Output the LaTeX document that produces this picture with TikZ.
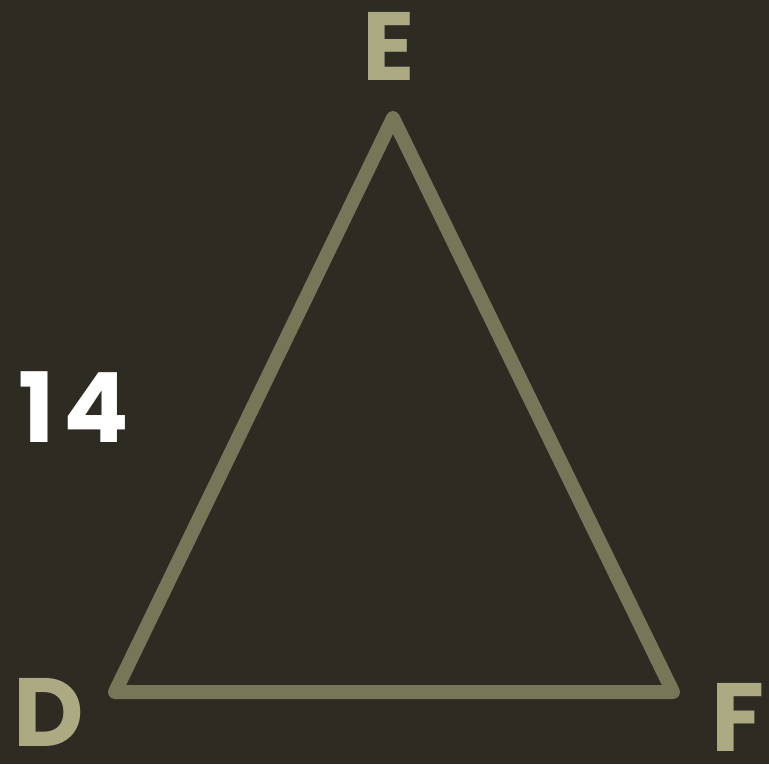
\documentclass[tikz,border=0pt]{standalone}
\usepackage{fontspec}
\setmainfont{Poppins}[BoldFont={* Bold}]
\definecolor{bg}{RGB}{46,44,34}
\definecolor{edge}{RGB}{118,118,88}
\definecolor{lab}{RGB}{172,170,130}
\begin{document}
\begin{tikzpicture}[x=1pt,y=-1pt,
  vlabel/.style={text=lab,font=\fontsize{97}{97}\selectfont\bfseries,inner sep=0pt,anchor=center},
  numlabel/.style={text=white,font=\fontsize{97}{97}\selectfont\bfseries,inner sep=0pt,anchor=center},
  side/.style={draw=edge,line width=14pt,line join=round,line cap=round}]
\fill[bg] (0,0) rectangle (769,764);
\useasboundingbox (0,0) rectangle (769,764);
\coordinate (D) at (115,692);
\coordinate (E) at (393,118);
\coordinate (F) at (673,692);
\draw[side] (D) -- (E) -- (F) -- cycle;
\node[vlabel] (lE) at (389,46) {E};
\node[vlabel] (lD) at (49,712) {D};
\node[vlabel] (lF) at (738,717) {F};
\node[numlabel] (n14) at (74,407) {1\kern8pt 4};
\end{tikzpicture}
\end{document}
